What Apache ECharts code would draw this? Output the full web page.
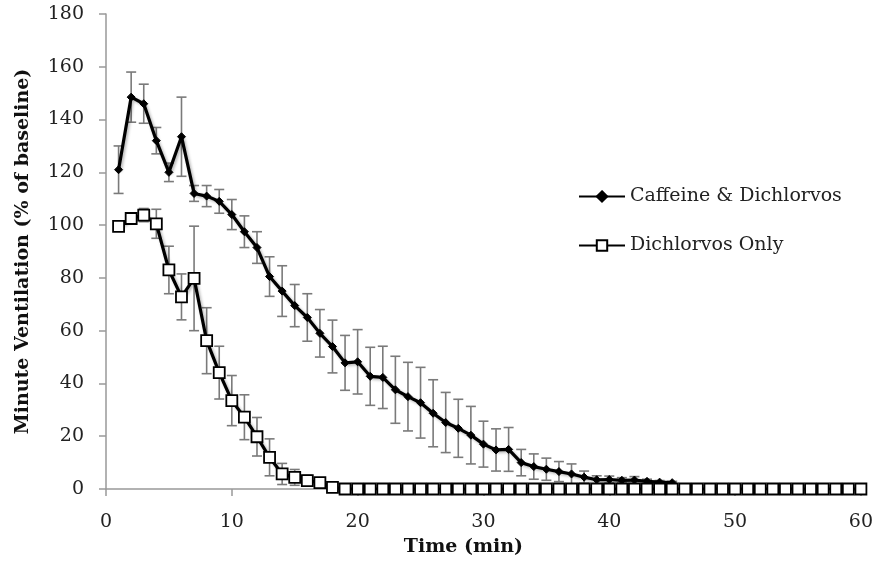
<!DOCTYPE html>
<html>
<head>
<meta charset="UTF-8"/>
<script src="https://cdn.jsdelivr.net/npm/echarts@6/dist/echarts.min.js"></script>
<style>
  html, body { margin: 0; padding: 0; background: #fff; }
  #main { width: 876px; height: 562px; }
</style>
</head>
<body>
<div id="main"></div>
<script type="text/javascript">
// time points (min)
var caffeineTime = [];
for (var i = 1; i <= 45; i++) caffeineTime.push(i);
var dichlorvosTime = [];
for (var j = 1; j <= 60; j++) dichlorvosTime.push(j);

// Caffeine & Dichlorvos: mean and error (% of baseline)
var caffeineMean = [121, 148.5, 146, 132, 120, 133.5, 112, 111, 109, 104,
    97.5, 91.5, 80.5, 75, 69.5, 65, 59, 54, 47.8, 48.2,
    42.7, 42.3, 37.6, 35, 32.7, 28.7, 25.2, 23, 20.4, 17,
    14.8, 15, 10, 8.5, 7.5, 6.6, 5.7, 4.5, 3.5, 3.6,
    3.3, 3.4, 2.9, 2.6, 2.4];
var caffeineErr = [9, 9.5, 7.4, 5, 3.5, 15, 3, 4, 4.5, 5.7,
    6, 6, 7.5, 9.6, 8, 9, 9, 10, 10.4, 12.2,
    11, 11.8, 12.7, 13, 13.4, 12.7, 11.4, 11, 10.9, 8.7,
    8, 8.3, 5, 4.8, 4.2, 3.8, 3.8, 2.3, 1.5, 1.3,
    1, 1.3, 0.8, 0.6, 0.5];

// Dichlorvos Only: mean and error
var dichlorvosMean = [99.5, 102.5, 103.8, 100.5, 83, 72.8, 79.8, 56.2, 44.1, 33.5,
    27.2, 19.8, 12, 5.7, 4.4, 3.2, 2.4, 0.6, 0, 0,
    0, 0, 0, 0, 0, 0, 0, 0, 0, 0,
    0, 0, 0, 0, 0, 0, 0, 0, 0, 0,
    0, 0, 0, 0, 0, 0, 0, 0, 0, 0,
    0, 0, 0, 0, 0, 0, 0, 0, 0, 0];
var dichlorvosErr = [1, 1.5, 2.5, 5.5, 9, 8.7, 19.8, 12.5, 10, 9.5,
    8.5, 7.3, 7, 4, 3, 2, 1.5, 0.5, 0, 0,
    0, 0, 0, 0, 0, 0, 0, 0, 0, 0,
    0, 0, 0, 0, 0, 0, 0, 0, 0, 0,
    0, 0, 0, 0, 0, 0, 0, 0, 0, 0,
    0, 0, 0, 0, 0, 0, 0, 0, 0, 0];

var seriesNames = ['Caffeine & Dichlorvos', 'Dichlorvos Only'];

function pairs(xs, ys) {
    var out = [];
    for (var k = 0; k < ys.length; k++) out.push([xs[k], ys[k]]);
    return out;
}
function errRows(xs, ys, es) {
    var out = [];
    for (var k = 0; k < ys.length; k++) out.push([xs[k], ys[k] - es[k], ys[k] + es[k]]);
    return out;
}

// vertical error bar with caps
function renderErr(params, api) {
    var lo = api.coord([api.value(0), api.value(1)]);
    var hi = api.coord([api.value(0), api.value(2)]);
    var half = 5;
    var st = {stroke: '#7a7a7a', lineWidth: 1.6};
    return {
        type: 'group',
        children: [
            {type: 'line', shape: {x1: lo[0], y1: lo[1], x2: hi[0], y2: hi[1]}, style: st},
            {type: 'line', shape: {x1: lo[0] - half, y1: lo[1], x2: lo[0] + half, y2: lo[1]}, style: st},
            {type: 'line', shape: {x1: hi[0] - half, y1: hi[1], x2: hi[0] + half, y2: hi[1]}, style: st}
        ]
    };
}

var serif = '"DejaVu Serif", "Liberation Serif", serif';
var lineShadow = {shadowColor: 'rgba(0,0,0,0.3)', shadowBlur: 3, shadowOffsetX: 1.5, shadowOffsetY: 1.5};

var myChart = echarts.init(document.getElementById('main'));
var option = {
    animation: false,
    backgroundColor: '#fff',
    grid: {left: 106, right: 15, top: 14, bottom: 73},
    legend: {
        data: seriesNames,
        orient: 'vertical',
        left: 578,
        top: 187,
        padding: 0,
        itemWidth: 46,
        itemHeight: 13,
        itemGap: 30,
        textStyle: {fontFamily: serif, fontSize: 19, color: '#222'}
    },
    xAxis: {
        type: 'value',
        min: 0,
        max: 60,
        interval: 10,
        name: 'Time (min)',
        nameLocation: 'middle',
        nameGap: 49,
        nameTextStyle: {fontFamily: serif, fontWeight: 'bold', fontSize: 19, color: '#111', padding: [0, 40, 0, 0]},
        axisLine: {lineStyle: {color: '#999', width: 1.5}},
        axisTick: {show: true, length: 7, lineStyle: {color: '#999', width: 1.5}},
        axisLabel: {fontFamily: serif, fontSize: 19, color: '#222', margin: 24},
        splitLine: {show: false}
    },
    yAxis: {
        type: 'value',
        min: 0,
        max: 180,
        interval: 20,
        name: 'Minute Ventilation (% of baseline)',
        nameLocation: 'middle',
        nameGap: 73,
        nameTextStyle: {fontFamily: serif, fontWeight: 'bold', fontSize: 19, color: '#111'},
        axisLine: {show: true, lineStyle: {color: '#999', width: 1.5}},
        axisTick: {show: true, length: 7, lineStyle: {color: '#999', width: 1.5}},
        axisLabel: {fontFamily: serif, fontSize: 19, color: '#222', margin: 22},
        splitLine: {show: false}
    },
    series: [
        {
            name: 'caffeineErr',
            type: 'custom',
            renderItem: renderErr,
            encode: {x: 0, y: [1, 2]},
            data: errRows(caffeineTime, caffeineMean, caffeineErr),
            z: 1,
            silent: true
        },
        {
            name: 'dichlorvosErr',
            type: 'custom',
            renderItem: renderErr,
            encode: {x: 0, y: [1, 2]},
            data: errRows(dichlorvosTime, dichlorvosMean, dichlorvosErr),
            z: 1,
            silent: true
        },
        {
            name: seriesNames[0],
            type: 'line',
            data: pairs(caffeineTime, caffeineMean),
            symbol: 'diamond',
            symbolSize: 8,
            showAllSymbol: true,
            itemStyle: {color: '#000', borderColor: '#000', borderWidth: 1},
            lineStyle: Object.assign({color: '#000', width: 3.2}, lineShadow),
            z: 3
        },
        {
            name: seriesNames[1],
            type: 'line',
            data: pairs(dichlorvosTime, dichlorvosMean),
            symbol: 'rect',
            symbolSize: 11,
            showAllSymbol: true,
            itemStyle: {color: '#fff', borderColor: '#000', borderWidth: 1.8},
            lineStyle: Object.assign({color: '#000', width: 3.2}, lineShadow),
            z: 4
        }
    ]
};
myChart.setOption(option);
</script>
</body>
</html>
